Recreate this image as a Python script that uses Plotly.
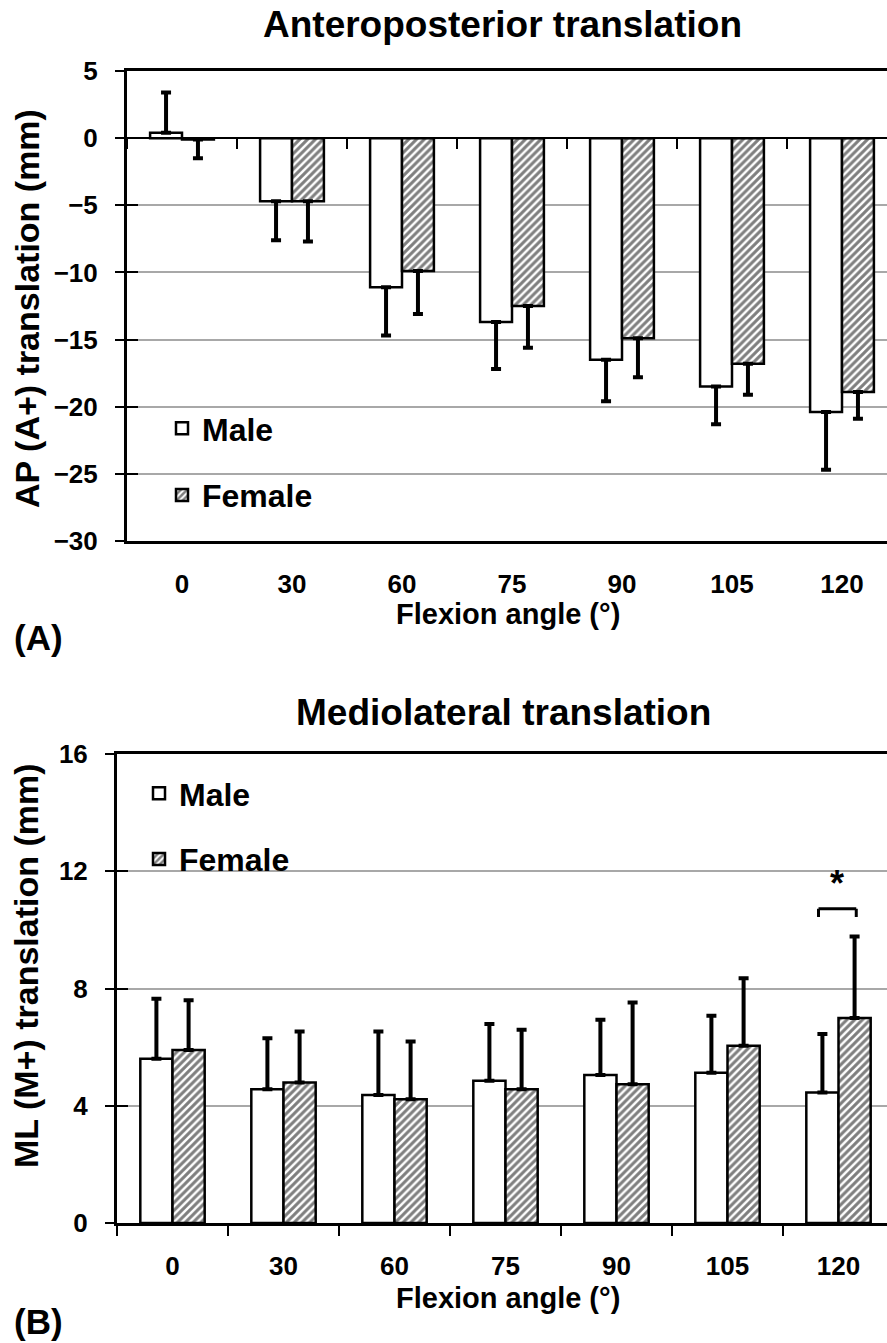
import plotly.graph_objects as go

# ---------------- data ----------------
angles = ["0", "30", "60", "75", "90", "105", "120"]

ap_male = [0.4, -4.7, -11.1, -13.7, -16.5, -18.5, -20.4]
ap_male_sd = [3.0, 2.9, 3.6, 3.5, 3.1, 2.8, 4.3]
ap_female = [-0.1, -4.7, -9.9, -12.5, -14.9, -16.8, -18.9]
ap_female_sd = [1.4, 3.0, 3.2, 3.1, 2.9, 2.3, 2.0]

ml_male = [5.6, 4.56, 4.37, 4.85, 5.05, 5.13, 4.45]
ml_male_sd = [2.05, 1.74, 2.16, 1.94, 1.88, 1.94, 2.0]
ml_female = [5.9, 4.79, 4.22, 4.56, 4.73, 6.05, 6.99]
ml_female_sd = [1.7, 1.74, 1.97, 2.03, 2.79, 2.3, 2.78]

series_names = ["Male", "Female"]
sig_category = "120"

FONT = "Liberation Sans, Arial, sans-serif"
W, H = 887, 1343


def up(means, sds):
    return [s if m >= 0 else 0 for m, s in zip(means, sds)]


def down(means, sds):
    return [s if m < 0 else 0 for m, s in zip(means, sds)]


def bar(means, sds, name, female, xa, ya, leg):
    marker = dict(color="white", line=dict(color="black", width=2.5))
    if female:
        marker["pattern"] = dict(shape="/", fgcolor="black", bgcolor="white",
                                 size=5.5, solidity=0.55)
    return go.Bar(
        x=angles, y=means, name=name, xaxis=xa, yaxis=ya, legend=leg,
        legendgroup=leg + name, marker=marker,
        error_y=dict(type="data", symmetric=False, array=up(means, sds),
                     arrayminus=down(means, sds), color="black",
                     thickness=4, width=5),
    )


fig = go.Figure()
fig.add_trace(bar(ap_male, ap_male_sd, series_names[0], False, "x", "y", "legend"))
fig.add_trace(bar(ap_female, ap_female_sd, series_names[1], True, "x", "y", "legend"))
fig.add_trace(bar(ml_male, ml_male_sd, series_names[0], False, "x2", "y2", "legend2"))
fig.add_trace(bar(ml_female, ml_female_sd, series_names[1], True, "x2", "y2", "legend2"))

# empty helper traces so the overlay axes are drawn
fig.add_trace(go.Scatter(x=[], y=[], xaxis="x3", yaxis="y", showlegend=False))
fig.add_trace(go.Scatter(x=[], y=[], xaxis="x", yaxis="y3", showlegend=False))
fig.add_trace(go.Scatter(x=[], y=[], xaxis="x2", yaxis="y4", showlegend=False))

# ---------------- geometry ----------------
top_dom = [1 - 541 / H, 1 - 71 / H]
bot_dom = [1 - 1223 / H, 1 - 754 / H]
top_xdom = [127 / W, 1]
bot_xdom = [117 / W, 1]
ap_range = [-30, 5]
ml_range = [0, 16]
n = len(angles)
top_xrange = [-0.5, -0.5 + (W - 127) / 110.0]
bot_xrange = [-0.5, -0.5 + (W - 117) / 111.0]
zero_pos = top_dom[0] + (0 - ap_range[0]) / (ap_range[1] - ap_range[0]) * (top_dom[1] - top_dom[0])

tickfont = dict(family=FONT, size=26, color="black", weight="bold")
grid = "#a8a8a8"
legfont = dict(family=FONT, size=32, color="black", weight="bold")

fig.update_layout(
    width=W, height=H, margin=dict(l=0, r=0, t=0, b=0, autoexpand=False),
    paper_bgcolor="white", plot_bgcolor="white",
    barmode="group", bargap=0.42, bargroupgap=0,
    font=dict(family=FONT, color="black"),
    xaxis=dict(domain=top_xdom, anchor="y", type="category", range=top_xrange,
               showline=True, linewidth=3, linecolor="black", mirror=True,
               ticks="", showgrid=False, tickfont=tickfont, ticklabelstandoff=18,
               automargin=False),
    xaxis3=dict(overlaying="x", anchor="free", position=zero_pos, type="linear",
                range=top_xrange, tickvals=[i - 0.5 for i in range(n + 1)],
                ticks="outside", ticklen=10, tickwidth=2, tickcolor="black",
                showticklabels=False, showline=True, linewidth=2,
                linecolor="black", showgrid=False, zeroline=False),
    yaxis=dict(domain=top_dom, anchor="x", range=ap_range, dtick=5,
               showline=True, linewidth=3, linecolor="black",
               ticks="outside", ticklen=9, tickwidth=2, tickcolor="black",
               gridcolor=grid, gridwidth=1.5, zeroline=False,
               tickfont=tickfont, ticklabelstandoff=12, automargin=False),
    yaxis3=dict(overlaying="y", anchor="x", range=ap_range, dtick=5,
                ticks="inside", ticklen=11, tickwidth=2, tickcolor="black",
                showticklabels=False, showgrid=False, showline=False,
                zeroline=False),
    xaxis2=dict(domain=bot_xdom, anchor="y2", type="category", range=bot_xrange,
                showline=True, linewidth=3, linecolor="black", mirror=True,
                ticks="outside", tickson="boundaries", ticklen=10, tickwidth=2,
                tickcolor="black", showgrid=False, tickfont=tickfont,
                ticklabelstandoff=18, automargin=False),
    yaxis2=dict(domain=bot_dom, anchor="x2", range=ml_range, dtick=4,
                showline=True, linewidth=3, linecolor="black",
                ticks="outside", ticklen=9, tickwidth=2, tickcolor="black",
                gridcolor=grid, gridwidth=1.5, zeroline=False,
                tickfont=tickfont, ticklabelstandoff=12, automargin=False),
    yaxis4=dict(overlaying="y2", anchor="x2", range=ml_range, dtick=4,
                ticks="inside", ticklen=11, tickwidth=2, tickcolor="black",
                showticklabels=False, showgrid=False, showline=False,
                zeroline=False),
    legend=dict(x=162 / W, y=1 - 401 / H, xanchor="left", yanchor="top",
                bgcolor="rgba(0,0,0,0)", tracegroupgap=22, font=legfont),
    legend2=dict(x=139 / W, y=1 - 766 / H, xanchor="left", yanchor="top",
                 bgcolor="rgba(0,0,0,0)", tracegroupgap=21, font=legfont),
)

# white boxes behind legends (hide grid lines like the original)
fig.add_shape(type="rect", xref="paper", yref="paper", layer="between",
              x0=139 / W, x1=345 / W, y0=1 - 539 / H, y1=1 - 345 / H,
              fillcolor="white", line=dict(width=0))
fig.add_shape(type="rect", xref="paper", yref="paper", layer="between",
              x0=129 / W, x1=309 / W, y0=1 - 905 / H, y1=1 - 757 / H,
              fillcolor="white", line=dict(width=0))

# significance bracket
si = angles.index(sig_category)
b_top = ml_female[si] + ml_female_sd[si] + 0.95
b_leg = b_top - 0.28
bx0, bx1 = si - 0.18, si + 0.16
for (xa, ya, xb, yb) in [(bx0, b_leg, bx0, b_top), (bx0, b_top, bx1, b_top), (bx1, b_top, bx1, b_leg)]:
    fig.add_shape(type="line", xref="x2", yref="y2", x0=xa, y0=ya, x1=xb, y1=yb,
                  line=dict(color="black", width=3))
fig.add_annotation(x=si - 0.01, y=b_top + 0.85, xref="x2", yref="y2", text="*",
                   showarrow=False,
                   font=dict(family=FONT, size=36, color="black", weight="bold"))

def ann(text, x, y, size, angle=0, xanchor="center"):
    fig.add_annotation(x=x / W, y=1 - y / H, xref="paper", yref="paper",
                       text=text, showarrow=False, textangle=angle,
                       xanchor=xanchor, yanchor="middle",
                       font=dict(family=FONT, size=size, color="black", weight="bold"))

ann("Anteroposterior translation", 502, 25, 37)
ann("Mediolateral translation", 503, 712, 37)
ann("AP (A+) translation (mm)", 27, 309, 34, angle=-90)
ann("ML (M+) translation (mm)", 26, 966, 34, angle=-90)
ann("Flexion angle (°)", 508, 614, 29)
ann("Flexion angle (°)", 508, 1298, 29)
ann("(A)", 12, 637, 35, xanchor="left")
ann("(B)", 12, 1321, 35, xanchor="left")

fig.write_html("out.html", config={"displayModeBar": False},
               post_script="document.body.style.margin='0';")
